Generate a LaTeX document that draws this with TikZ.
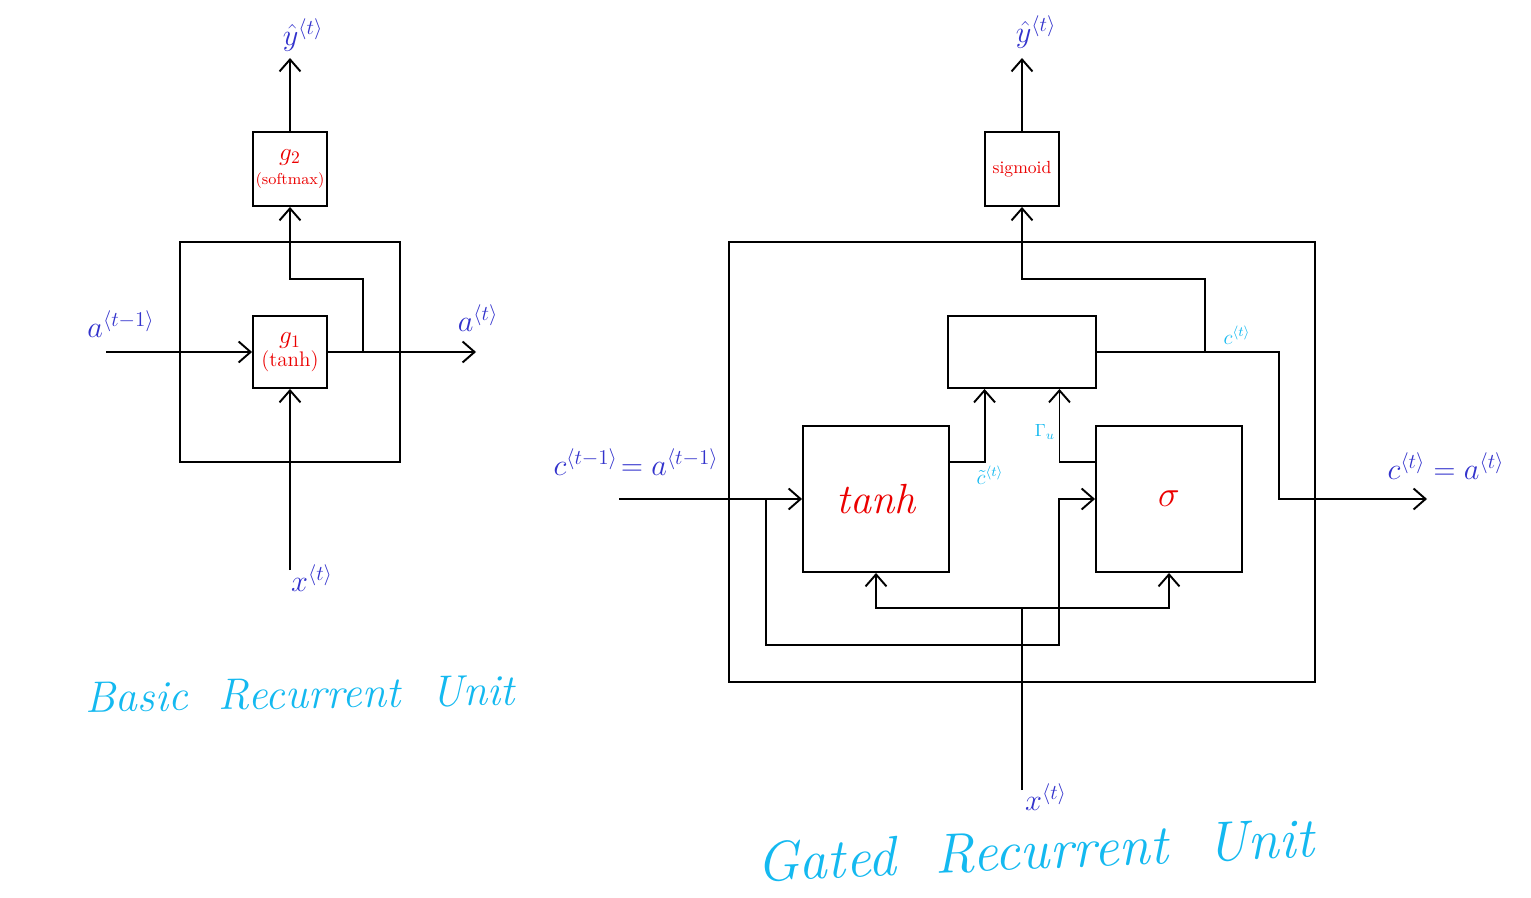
\documentclass[tikz,border=0pt]{standalone}
\usepackage{amsmath}
\usetikzlibrary{arrows.meta,positioning,calc}

\definecolor{labblue}{RGB}{51,51,204}
\definecolor{gatered}{RGB}{235,0,0}
\definecolor{notecyan}{RGB}{20,185,240}

\begin{document}
\begin{tikzpicture}[x=0.02cm,y=-0.02cm,line width=1.1pt,
  >={Straight Barb[length=2.4mm,width=4.2mm,line width=1.1pt]},
  box/.style={draw,line width=1.1pt,inner sep=0pt},
  lab/.style={text=labblue,font=\LARGE},
  gate/.style={text=gatered},
  note/.style={text=notecyan,font=\large},
  title/.style={text=notecyan,font=\fontsize{25}{30}\selectfont\itshape}]

\useasboundingbox (0,0) rectangle (1531,898);

% basic recurrent unit
\node[box,minimum width=4.4cm,minimum height=4.4cm] (basic) at (290,352) {};
\node[box,gate,minimum width=1.48cm,minimum height=1.44cm,align=center] (g1) at (290,352)
  {\Large$g_1$\\[1pt]\large(tanh)};
\node[box,gate,minimum width=1.48cm,minimum height=1.48cm,align=center] (g2) at (290,169)
  {\Large$g_2$\\[2pt]\small(softmax)};

\coordinate (ain)  at (106,352);
\coordinate (aout) at (476,352);
\coordinate (xin)  at (290,570);
\coordinate (yout) at (290,58);
\coordinate (asplit) at (363,352);

\draw[->] (ain) -- (g1.west);
\draw[->] (g1.east) -- (aout);
\draw[->] (asplit) -- (363,279) -| (g2.south);
\draw[->] (xin) -- (g1.south);
\draw[->] (g2.north) -- (yout);

\node[lab] (yhat1) at (303,35) {$\hat{y}^{\langle t\rangle}$};
\node[lab] (aprev) at (121,324) {$a^{\langle t-1\rangle}$};
\node[lab] (anext) at (478,318) {$a^{\langle t\rangle}$};
\node[lab] (x1)    at (312,578) {$x^{\langle t\rangle}$};

\node[title,rotate=1] (basictitle) at (300,694) {Basic\ \ Recurrent\ \ Unit};

% gated recurrent unit
\node[box,minimum width=11.72cm,minimum height=8.8cm] (gru) at (1022,462) {};
\node[box,minimum width=2.96cm,minimum height=1.44cm] (mem) at (1022,352) {};
\node[box,gate,font=\fontsize{24}{28}\selectfont\itshape,minimum width=2.92cm,minimum height=2.92cm] (tanh) at (876,499) {tanh};
\node[box,gate,font=\huge,minimum width=2.92cm,minimum height=2.92cm] (sigma) at (1169,499) {$\sigma$};
\node[box,gate,font=\normalsize,minimum width=1.48cm,minimum height=1.48cm] (sig) at (1022,169) {sigmoid};

\coordinate (cin)  at (619,499);
\coordinate (cout) at (1427,499);
\coordinate (xin2) at (1022,790);
\coordinate (yout2) at (1022,58);
\coordinate (csplit) at (766,499);
\coordinate (xsplit) at (1022,608);
\coordinate (memsplit) at (1205,352);

\draw[->] (cin) -- (tanh.west);
\draw[->] (csplit) |- (1059,645) |- (sigma.west);
\draw (xin2) -- (xsplit);
\draw[->] (xsplit) -| (tanh.south);
\draw[->] (xsplit) -| (sigma.south);
\draw[->] ($(tanh.north east)!0.25!(tanh.south east)$) -| ($(mem.south west)!0.25!(mem.south east)$);
\draw[->] ($(sigma.north west)!0.25!(sigma.south west)$) -| ($(mem.south west)!0.75!(mem.south east)$);
\draw[->] (mem.east) -- (1279,352) |- (cout);
\draw[->] (memsplit) -- (1205,279) -| (sig.south);
\draw[->] (sig.north) -- (yout2);

\node[lab] (yhat2) at (1036,32) {$\hat{y}^{\langle t\rangle}$};
\node[lab] (cprev) at (636,462) {$c^{\langle t-1\rangle}\!=a^{\langle t-1\rangle}$};
\node[lab] (cnext) at (1446,466) {$c^{\langle t\rangle}=a^{\langle t\rangle}$};
\node[lab] (x2)    at (1046,797) {$x^{\langle t\rangle}$};
\node[note] (ctilde) at (990,475) {$\tilde{c}^{\langle t\rangle}$};
\node[note,font=\normalsize] (gamma) at (1045,432) {$\Gamma_u$};
\node[note] (cnew)   at (1237,335) {$c^{\langle t\rangle}$};

\node[title,font=\fontsize{32}{38}\selectfont\itshape,rotate=2.5] (grutitle) at (1035,850)
  {Gated\ \ Recurrent\ \ Unit};

\end{tikzpicture}
\end{document}
